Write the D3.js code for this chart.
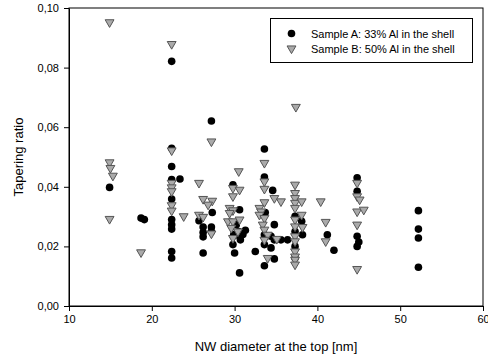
<!DOCTYPE html>
<html>
<head>
<meta charset="utf-8">
<script src="https://cdn.jsdelivr.net/npm/d3@7"></script>
<style>
  body { margin: 0; background: #fff; }
  text { font-family: "Liberation Sans", Arial, sans-serif; }
  .tick text { font-size: 11px; fill: #000; }
</style>
</head>
<body>
<div id="chart"></div>
<script>
// Sample A: 33% Al in the shell (circles)
const sampleAX = [
  14.9,
  18.7, 19.1,
  22.4, 22.4, 22.4, 22.4, 23.4, 22.4, 22.4, 22.4, 22.4, 22.4, 22.4,
  27.2, 25.7, 27.3, 26.2, 26.2, 26.2, 27.2, 27.2, 26.2,
  29.8, 30.6, 30.2, 31.3, 30.5, 30.6, 29.8, 30.7, 30.0, 30.6, 29.9, 31.0, 32.5,
  33.6, 33.6, 34.6, 33.7, 34.8, 33.6, 34.4, 34.8, 35.6, 36.4, 33.6, 34.4, 34.8, 33.6,
  37.3, 38.1, 37.3, 38.2, 37.3, 37.3,
  41.2, 42.0,
  44.8, 44.8, 44.8, 44.8, 45.0,
  52.2, 52.2, 52.2, 52.2,
];
const sampleAY = [
  0.0398,
  0.0295, 0.0290,
  0.0821, 0.0529, 0.0468, 0.0424, 0.0426, 0.0359, 0.0290, 0.0273, 0.0258, 0.0183, 0.0161,
  0.0621, 0.0286, 0.0314, 0.0265, 0.0247, 0.0232, 0.0265, 0.0250, 0.0178,
  0.0407, 0.0323, 0.0273, 0.0254, 0.0250, 0.0234, 0.0206, 0.0222, 0.0178, 0.0111, 0.0240, 0.0240, 0.0183,
  0.0527, 0.0433, 0.0388, 0.0314, 0.0273, 0.0239, 0.0234, 0.0222, 0.0222, 0.0222, 0.0206, 0.0195, 0.0158, 0.0135,
  0.0301, 0.0284, 0.0250, 0.0239, 0.0200, 0.0161,
  0.0239, 0.0187,
  0.0430, 0.0385, 0.0234, 0.0200, 0.0215,
  0.0320, 0.0258, 0.0228, 0.0130,
];

// Sample B: 50% Al in the shell (triangles)
const sampleBX = [
  14.9, 14.9, 15.0, 15.3, 14.9,
  18.7,
  22.4, 22.4, 22.4, 22.4, 22.4, 22.4, 22.4, 23.85,
  27.2, 25.7, 26.2, 27.3, 26.8, 25.7, 26.2, 27.2,
  30.5, 29.8, 30.6, 29.8, 29.4, 29.8, 29.4, 29.2, 29.8, 30.6, 29.6, 30.4, 29.8,
  33.6, 33.6, 33.6, 34.8, 35.6, 33.6, 33.0, 33.2, 33.0, 33.6, 33.4, 33.6, 34.0, 33.6, 34.0, 35.1,
  37.4, 37.3, 37.3, 37.3, 37.3, 38.1, 37.3, 38.1, 37.3, 37.3, 38.2, 37.3, 37.3, 37.3, 37.3, 37.3, 37.3,
  40.4, 41.0, 41.0,
  44.8, 44.8, 45.1, 44.8, 45.6, 44.8, 44.8,
];
const sampleBY = [
  0.0952, 0.0482, 0.0463, 0.0437, 0.0292,
  0.0180,
  0.0879, 0.0522, 0.0413, 0.0398, 0.0385, 0.0338, 0.0320, 0.0301,
  0.0552, 0.0413, 0.0359, 0.0353, 0.0340, 0.0306, 0.0299, 0.0243,
  0.0452, 0.0396, 0.0390, 0.0368, 0.0329, 0.0321, 0.0312, 0.0284, 0.0284, 0.0290, 0.0262, 0.0250, 0.0228,
  0.0480, 0.0418, 0.0393, 0.0362, 0.0351, 0.0348, 0.0329, 0.0317, 0.0306, 0.0295, 0.0273, 0.0256, 0.0239, 0.0222, 0.0161, 0.0225,
  0.0668, 0.0407, 0.0379, 0.0362, 0.0346, 0.0351, 0.0329, 0.0306, 0.0290, 0.0267, 0.0265, 0.0234, 0.0217, 0.0183, 0.0166, 0.0155, 0.0139,
  0.0351, 0.0282, 0.0217,
  0.0413, 0.0368, 0.0357, 0.0317, 0.0323, 0.0273, 0.0124,
];

const xTicks = [10, 20, 30, 40, 50, 60];
const yTicks = [0, 0.02, 0.04, 0.06, 0.08, 0.10];
const legendLabels = ['Sample A: 33% Al in the shell', 'Sample B: 50% Al in the shell'];

const width = 488;
const height = 361;
const margin = { top: 8, right: 5, bottom: 55, left: 69 };

const xScale = d3.scaleLinear()
  .domain([10, 60])
  .range([margin.left, width - margin.right]);

const yScale = d3.scaleLinear()
  .domain([0, 0.10])
  .range([height - margin.bottom, margin.top]);

const svg = d3.select('#chart').append('svg')
  .attr('width', width)
  .attr('height', height);

const commaFmt = d => d3.format('.2f')(d).replace('.', ',');

// frame
svg.append('rect')
  .attr('x', xScale(10))
  .attr('y', yScale(0.10))
  .attr('width', xScale(60) - xScale(10))
  .attr('height', yScale(0) - yScale(0.10))
  .attr('fill', 'none')
  .attr('stroke', '#000')
  .attr('stroke-width', 1);

svg.append('g')
  .attr('transform', `translate(0, ${yScale(0)})`)
  .call(d3.axisBottom(xScale).tickValues(xTicks).tickSize(5).tickSizeOuter(0).tickPadding(4))
  .call(g => g.select('.domain').attr('stroke', '#000'));

svg.append('g')
  .attr('transform', `translate(${xScale(10)}, 0)`)
  .call(d3.axisLeft(yScale).tickValues(yTicks).tickFormat(commaFmt).tickSize(5).tickSizeOuter(0).tickPadding(5))
  .call(g => g.select('.domain').attr('stroke', '#000'));

// axis titles
svg.append('text')
  .attr('x', (xScale(10) + xScale(60)) / 2)
  .attr('y', 351)
  .attr('text-anchor', 'middle')
  .attr('font-size', 13)
  .text('NW diameter at the top [nm]');

svg.append('text')
  .attr('transform', `translate(23, ${(yScale(0) + yScale(0.1)) / 2}) rotate(-90)`)
  .attr('text-anchor', 'middle')
  .attr('font-size', 13)
  .text('Tapering ratio');

const tri = d3.symbol().type(d3.symbolTriangle).size(34);

// sample A
svg.selectAll('.dotA')
  .data(sampleAX.map((x, i) => ({ x, y: sampleAY[i] })))
  .enter()
  .append('circle')
  .attr('class', 'dotA')
  .attr('cx', d => xScale(d.x))
  .attr('cy', d => yScale(d.y))
  .attr('r', 3.8)
  .attr('fill', '#000');

// sample B
svg.selectAll('.dotB')
  .data(sampleBX.map((x, i) => ({ x, y: sampleBY[i] })))
  .enter()
  .append('path')
  .attr('class', 'dotB')
  .attr('d', tri)
  .attr('transform', d => `translate(${xScale(d.x)}, ${yScale(d.y)}) rotate(180)`)
  .attr('fill', '#aaaaaa')
  .attr('stroke', '#555')
  .attr('stroke-width', 1);

// legend
const legend = svg.append('g');
legend.append('rect')
  .attr('x', 270.5)
  .attr('y', 18.5)
  .attr('width', 202)
  .attr('height', 44)
  .attr('fill', '#fff')
  .attr('stroke', '#000')
  .attr('stroke-width', 1);

legend.append('circle')
  .attr('cx', 291.5)
  .attr('cy', 33.5)
  .attr('r', 3.8)
  .attr('fill', '#000');

legend.append('path')
  .attr('d', tri)
  .attr('transform', 'translate(291.5, 48.5) rotate(180)')
  .attr('fill', '#aaaaaa')
  .attr('stroke', '#555')
  .attr('stroke-width', 1);

legend.selectAll('.leg-text')
  .data(legendLabels)
  .enter()
  .append('text')
  .attr('class', 'leg-text')
  .attr('x', 311)
  .attr('y', (d, i) => 37.5 + i * 15)
  .attr('font-size', 11)
  .text(d => d);
</script>
</body>
</html>
